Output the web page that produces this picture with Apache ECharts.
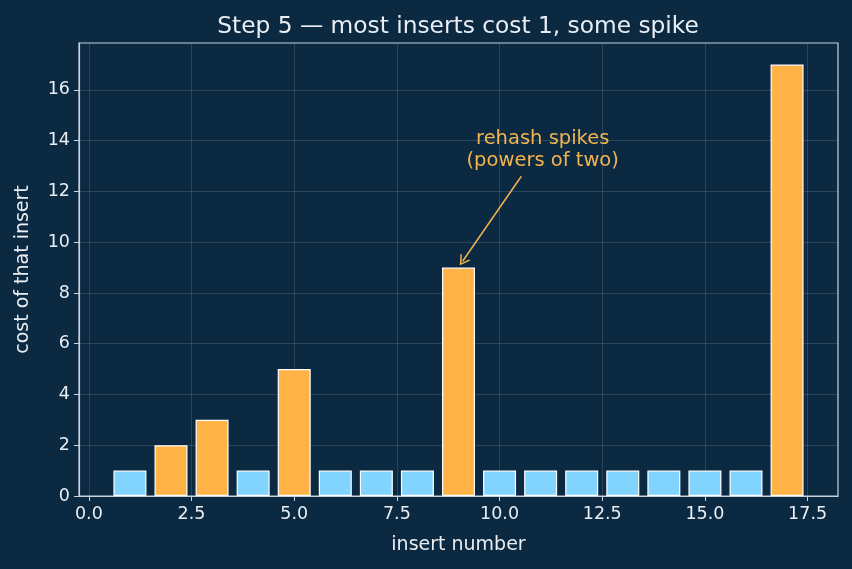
<!DOCTYPE html>
<html>
<head>
<meta charset="utf-8">
<script src="https://cdn.jsdelivr.net/npm/echarts@6/dist/echarts.min.js"></script>
<style>
  html, body {margin: 0; padding: 0; background: #0c2942;}
  #chart {width: 852px; height: 569px;}
</style>
</head>
<body>
<div id="chart"></div>
<script>
// insert number -> cost of that insert
const inserts = [1, 2, 3, 4, 5, 6, 7, 8, 9, 10, 11, 12, 13, 14, 15, 16, 17];
const costs = [1, 2, 3, 1, 5, 1, 1, 1, 9, 1, 1, 1, 1, 1, 1, 1, 17];
const xTicks = [0, 2.5, 5, 7.5, 10, 12.5, 15, 17.5];
const yTicks = [0, 2, 4, 6, 8, 10, 12, 14, 16];
// annotation: arrow tip, arrow tail, text position (data coords)
const arrowTip = [9.1, 9.25];
const arrowTail = [10.53, 12.6];
const notePos = [11.05, 13.64];
const noteText = 'rehash spikes\n(powers of two)';

const BLUE = '#81d4fe';
const ORANGE = '#ffb347';
const NOTE = '#f2b44f';
const FG = '#e9eef3';
const FRAME = '#c9d3de';
const FONT = 'DejaVu Sans';

const chart = echarts.init(document.getElementById('chart'));

chart.setOption({
  backgroundColor: '#0c2942',
  animation: false,
  textStyle: {fontFamily: FONT},
  title: {
    text: 'Step 5 — most inserts cost 1, some spike',
    left: 453, top: 10, textAlign: 'center',
    textStyle: {color: FG, fontSize: 23.3, fontWeight: 'normal', fontFamily: FONT}
  },
  grid: {
    left: 79, right: 14, top: 43, bottom: 73,
    show: true, borderColor: FRAME, borderWidth: 1.2
  },
  xAxis: {
    type: 'value',
    min: -0.24, max: 18.24,
    name: 'insert number',
    nameLocation: 'middle',
    nameGap: 40,
    nameTextStyle: {color: FG, fontSize: 19, fontFamily: FONT},
    axisLine: {show: true, onZero: false, lineStyle: {color: FRAME, width: 1.2}},
    axisTick: {show: true, length: 5, customValues: xTicks, lineStyle: {color: FRAME}},
    axisLabel: {customValues: xTicks, color: FG, fontSize: 17.5, margin: 9,
      formatter: v => v.toFixed(1)},
    splitLine: {show: true, lineStyle: {color: 'rgba(255,255,255,0.13)', width: 1}}
  },
  yAxis: {
    type: 'value',
    min: 0, max: 17.85,
    name: 'cost of that insert',
    nameLocation: 'middle',
    nameGap: 46,
    nameTextStyle: {color: FG, fontSize: 19, fontFamily: FONT},
    axisLine: {show: true, onZero: false, lineStyle: {color: FRAME, width: 1.2}},
    axisTick: {show: true, length: 5, customValues: yTicks, lineStyle: {color: FRAME}},
    axisLabel: {customValues: yTicks, color: FG, fontSize: 17.5, margin: 9},
    splitLine: {show: true, lineStyle: {color: 'rgba(255,255,255,0.13)', width: 1}}
  },
  series: [{
    type: 'bar',
    barWidth: 33,
    data: inserts.map((x, i) => ({
      value: [x, costs[i]],
      itemStyle: {color: costs[i] > 1 ? ORANGE : BLUE}
    })),
    itemStyle: {borderColor: '#ffffff', borderWidth: 1.2},
    markLine: {
      silent: true,
      symbol: ['none', 'path://M0,10 L6,0 L12,10 L10.3,10 L6,2.9 L1.7,10 Z'],
      symbolSize: [12, 10],
      label: {show: false},
      lineStyle: {color: NOTE, width: 1.5, type: 'solid'},
      data: [[{coord: arrowTail}, {coord: arrowTip}]]
    },
    markPoint: {
      silent: true,
      symbol: 'circle', symbolSize: 0,
      label: {
        show: true, position: 'inside', formatter: noteText,
        color: NOTE, fontSize: 19.5, lineHeight: 22, align: 'center', fontFamily: FONT
      },
      data: [{coord: notePos}]
    }
  }]
});
</script>
</body>
</html>
